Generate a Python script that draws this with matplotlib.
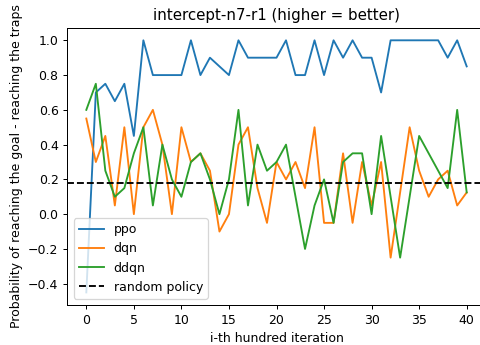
import matplotlib
matplotlib.use("Agg")
import matplotlib.pyplot as plt
import numpy as np

# success rate (goal - traps) per hundred iterations
iterations = np.arange(41)
ppo = [-0.45, 0.7, 0.75, 0.65, 0.75, 0.45, 1.0, 0.8, 0.8, 0.8,
       0.8, 1.0, 0.8, 0.9, 0.85, 0.8, 1.0, 0.9, 0.9, 0.9,
       0.9, 1.0, 0.8, 0.8, 1.0, 0.8, 1.0, 0.9, 1.0, 0.9,
       0.9, 0.7, 1.0, 1.0, 1.0, 1.0, 1.0, 1.0, 0.9, 1.0,
       0.85]
dqn = [0.55, 0.3, 0.45, 0.05, 0.5, 0.0, 0.5, 0.6, 0.4, 0.0,
       0.5, 0.3, 0.35, 0.25, -0.1, 0.0, 0.4, 0.5, 0.15, -0.05,
       0.3, 0.2, 0.3, 0.15, 0.5, -0.05, -0.05, 0.35, -0.05, 0.3,
       0.05, 0.3, -0.25, 0.125, 0.5, 0.25, 0.1, 0.2, 0.25, 0.05,
       0.125]
ddqn = [0.6, 0.75, 0.25, 0.1, 0.15, 0.35, 0.5, 0.05, 0.4, 0.2,
        0.1, 0.3, 0.35, 0.2, 0.0, 0.2, 0.6, 0.05, 0.4, 0.25,
        0.3, 0.4, 0.1, -0.2, 0.05, 0.2, -0.05, 0.3, 0.35, 0.35,
        0.0, 0.45, 0.1, -0.25, 0.1, 0.45, 0.35, 0.25, 0.15, 0.6,
        0.125]
random_policy = 0.18

fig = plt.figure(figsize=(480 / 90, 345 / 90), dpi=90)
ax = fig.add_axes([0.1402, 0.1159, 0.8717, 0.8038])

ax.plot(iterations, ppo, label="ppo")
ax.plot(iterations, dqn, label="dqn")
ax.plot(iterations, ddqn, label="ddqn")
ax.axhline(random_policy, color="black", linestyle="--", label="random policy")

ax.set_title("intercept-n7-r1 (higher = better)")
ax.set_xlabel("i-th hundred iteration")
ax.set_ylabel("Probability of reaching the goal - reaching the traps")
ax.legend(loc="lower left")

fig.savefig("out.png", dpi=90)
